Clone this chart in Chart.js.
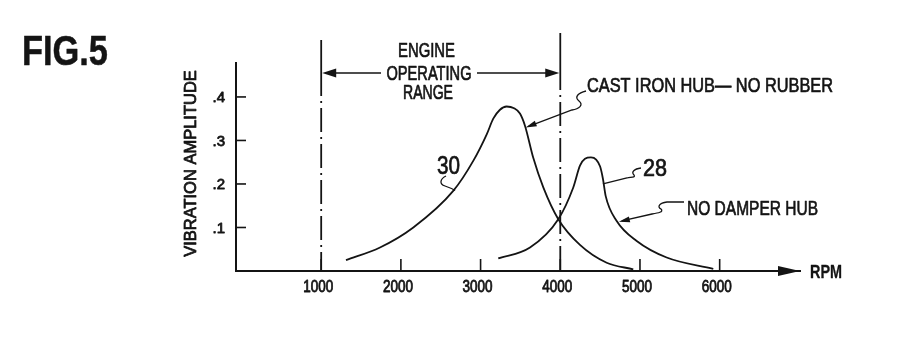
<!DOCTYPE html>
<html>
<head>
<meta charset="utf-8">
<script src="https://cdn.jsdelivr.net/npm/chart.js@4.4.0/dist/chart.umd.min.js"></script>
<style>
  html, body { margin: 0; padding: 0; background: #fff; }
  #wrap { width: 900px; height: 341px; position: relative; }
</style>
</head>
<body>
<div id="wrap"><canvas id="c" width="900" height="341"></canvas></div>
<script>
// Tick values and their labels
const rpmTicks = [1000, 2000, 3000, 4000, 5000, 6000];
const ampTicks = [0.1, 0.2, 0.3, 0.4];
const ampTickLabels = ['.1', '.2', '.3', '.4'];

// Curve 30: cast iron hub, no rubber
const castIronRpm = [1311, 1738, 2156, 2657, 2908, 3077, 3159, 3240, 3327, 3420, 3494, 3557, 3661, 3787, 3975, 4247, 4582, 4916];
const castIronAmp = [0.025, 0.054, 0.100, 0.184, 0.253, 0.314, 0.350, 0.370, 0.378, 0.374, 0.362, 0.334, 0.260, 0.192, 0.119, 0.060, 0.019, 0.004];

// Curve 28: no damper hub
const noDamperRpm = [3222, 3620, 3975, 4163, 4247, 4310, 4385, 4450, 4500, 4535, 4570, 4708, 4959, 5335, 5920];
const noDamperAmp = [0.029, 0.054, 0.119, 0.192, 0.242, 0.258, 0.261, 0.256, 0.240, 0.212, 0.172, 0.115, 0.069, 0.031, 0.005];

// Engine operating range (RPM)
const operatingRange = [1000, 4000];

const INK = '#141414';
const SANS = '"Liberation Sans", "DejaVu Sans", sans-serif';

function toPoints(xs, ys) { return xs.map((x, i) => ({ x: x, y: ys[i] })); }

function arrowHead(ctx, tipX, tipY, fromX, fromY, len, half) {
  const a = Math.atan2(tipY - fromY, tipX - fromX);
  const bx = tipX - len * Math.cos(a), by = tipY - len * Math.sin(a);
  ctx.beginPath();
  ctx.moveTo(tipX, tipY);
  ctx.lineTo(bx + half * Math.sin(a), by - half * Math.cos(a));
  ctx.lineTo(bx - half * Math.sin(a), by + half * Math.cos(a));
  ctx.closePath();
  ctx.fill();
}

function dashDot(ctx, x, yTop, ySolidEnd, yBottom) {
  ctx.save();
  ctx.lineWidth = 1.8;
  ctx.beginPath();
  ctx.moveTo(x, yTop);
  ctx.lineTo(x, ySolidEnd);
  ctx.stroke();
  ctx.setLineDash([2, 5, 24, 5]);
  ctx.beginPath();
  ctx.moveTo(x, ySolidEnd + 5);
  ctx.lineTo(x, yBottom);
  ctx.stroke();
  ctx.restore();
}

// condensed, pen-weight lettering squeezed to a set width
function letter(ctx, text, x, y, size, width, weight, pen) {
  ctx.font = (weight || 'normal') + ' ' + size + 'px ' + SANS;
  ctx.fillText(text, x, y, width);
  ctx.save();
  ctx.lineWidth = pen === undefined ? 0.7 : pen;
  ctx.lineJoin = 'round';
  ctx.strokeText(text, x, y, width);
  ctx.restore();
}

const figurePlugin = {
  id: 'figure',
  beforeDatasetsDraw(chart) {
    const ctx = chart.ctx, xs = chart.scales.x, area = chart.chartArea;
    ctx.save();
    ctx.strokeStyle = INK;
    dashDot(ctx, xs.getPixelForValue(operatingRange[0]), 40, 96, area.bottom);
    dashDot(ctx, xs.getPixelForValue(operatingRange[1]), 33, 90, area.bottom + 4);
    ctx.restore();
  },
  afterDraw(chart) {
    const ctx = chart.ctx, xs = chart.scales.x, ys = chart.scales.y, area = chart.chartArea;
    ctx.save();
    ctx.strokeStyle = INK;
    ctx.fillStyle = INK;
    ctx.lineWidth = 1.6;
    ctx.textBaseline = 'alphabetic';

    // inward tick marks and amplitude labels
    ctx.textAlign = 'right';
    ampTicks.forEach((v, i) => {
      const y = ys.getPixelForValue(v);
      ctx.beginPath(); ctx.moveTo(area.left, y); ctx.lineTo(area.left + 10, y); ctx.stroke();
      letter(ctx, ampTickLabels[i], area.left - 11, y + 5.5, 15, 13, 'normal', 0.8);
      ctx.lineWidth = 1.6;
    });
    ctx.textAlign = 'center';
    rpmTicks.forEach(v => {
      const x = xs.getPixelForValue(v);
      ctx.lineWidth = 1.6;
      ctx.beginPath(); ctx.moveTo(x, area.bottom); ctx.lineTo(x, area.bottom - 12); ctx.stroke();
      letter(ctx, String(v), x - 3, area.bottom + 20.5, 16, 30, 'normal', 0.8);
    });

    // amplitude axis title
    ctx.save();
    ctx.translate(191, 163.5);
    ctx.rotate(-Math.PI / 2);
    ctx.textAlign = 'center';
    ctx.textBaseline = 'middle';
    letter(ctx, 'VIBRATION AMPLITUDE', 0, 0, 16.5, 187, 'normal', 0.8);
    ctx.restore();

    // arrow at the end of the RPM axis
    arrowHead(ctx, area.right, area.bottom, area.right - 22, area.bottom, 22, 5);
    ctx.textAlign = 'left';
    letter(ctx, 'RPM', area.right + 10, area.bottom + 7, 18, 32, 'bold', 0.3);

    // operating range arrow
    const x1 = xs.getPixelForValue(operatingRange[0]);
    const x2 = xs.getPixelForValue(operatingRange[1]);
    const yr = 73;
    ctx.lineWidth = 1.5;
    ctx.beginPath();
    ctx.moveTo(x1 + 10, yr); ctx.lineTo(381, yr);
    ctx.moveTo(477, yr); ctx.lineTo(x2 - 10, yr);
    ctx.stroke();
    arrowHead(ctx, x1 + 1, yr, x1 + 20, yr, 14, 4.5);
    arrowHead(ctx, x2 - 1, yr, x2 - 20, yr, 14, 4.5);

    ctx.textAlign = 'center';
    letter(ctx, 'ENGINE', 426.5, 57, 20, 57);
    letter(ctx, 'OPERATING', 429, 80, 20, 85);
    letter(ctx, 'RANGE', 428, 98.5, 20, 50);

    // curve labels and leaders
    ctx.textAlign = 'left';
    letter(ctx, 'CAST IRON HUB\u2014 NO RUBBER', 587, 91.5, 21, 246);
    letter(ctx, 'NO DAMPER HUB', 687, 215, 21, 131);
    letter(ctx, '30', 437, 173.5, 25, 23);
    letter(ctx, '28', 643, 175.5, 24, 24);

    ctx.lineWidth = 1.3;
    // leader to curve 30 (cast iron)
    const t1x = xs.getPixelForValue(3565), t1y = ys.getPixelForValue(0.330);
    ctx.beginPath();
    ctx.moveTo(586, 91);
    ctx.bezierCurveTo(578, 93, 574, 97, 579, 101);
    ctx.bezierCurveTo(584, 105, 579, 109, 572, 110);
    ctx.lineTo(t1x + 3, t1y - 1);
    ctx.stroke();
    arrowHead(ctx, t1x, t1y, 572, 110, 11, 3);

    // squiggle under "30"
    const t2x = xs.getPixelForValue(2680), t2y = ys.getPixelForValue(0.185);
    ctx.beginPath();
    ctx.moveTo(446, 176);
    ctx.bezierCurveTo(440, 179, 439, 184, 445, 186);
    ctx.quadraticCurveTo(451, 188, t2x, t2y);
    ctx.stroke();

    // squiggle from "28"
    const t3x = xs.getPixelForValue(4535), t3y = ys.getPixelForValue(0.200);
    ctx.beginPath();
    ctx.moveTo(641, 168);
    ctx.bezierCurveTo(634, 169, 631, 172, 634, 175);
    ctx.bezierCurveTo(636, 178, 630, 177, 627, 178);
    ctx.lineTo(t3x, t3y);
    ctx.stroke();

    // leader to no damper hub curve
    const t4x = xs.getPixelForValue(4735), t4y = ys.getPixelForValue(0.113);
    ctx.beginPath();
    ctx.moveTo(684, 202);
    ctx.lineTo(667, 202);
    ctx.bezierCurveTo(659, 203, 657, 207, 661, 209);
    ctx.bezierCurveTo(664, 212, 658, 213, 652, 214);
    ctx.lineTo(t4x + 3, t4y - 1);
    ctx.stroke();
    arrowHead(ctx, t4x, t4y, 652, 214, 11, 3);

    // figure number
    letter(ctx, 'FIG.5', 22, 65, 42, 86, 'bold', 0.5);
    ctx.restore();
  }
};

const lineStyle = {
  showLine: true, borderColor: INK, borderWidth: 1.8, pointRadius: 0,
  cubicInterpolationMode: 'monotone', fill: false
};

new Chart(document.getElementById('c'), {
  type: 'scatter',
  data: {
    datasets: [
      Object.assign({ label: 'CAST IRON HUB\u2014 NO RUBBER', data: toPoints(castIronRpm, castIronAmp) }, lineStyle),
      Object.assign({ label: 'NO DAMPER HUB', data: toPoints(noDamperRpm, noDamperAmp) }, lineStyle)
    ]
  },
  options: {
    responsive: false,
    animation: false,
    devicePixelRatio: 1,
    layout: { padding: { left: 181, right: 100, top: 63, bottom: 0 } },
    plugins: { legend: { display: false }, tooltip: { enabled: false } },
    scales: {
      x: {
        type: 'linear', min: -69, max: 7008,
        afterBuildTicks: s => { s.ticks = rpmTicks.map(v => ({ value: v })); },
        afterFit: s => { s.height = 70; },
        grid: { display: false, drawTicks: false },
        border: { display: true, color: INK, width: 2 },
        ticks: { display: false }
      },
      y: {
        type: 'linear', min: 0, max: 0.478,
        afterBuildTicks: s => { s.ticks = ampTicks.map(v => ({ value: v })); },
        afterFit: s => { s.width = 55; },
        grid: { display: false, drawTicks: false },
        border: { display: true, color: INK, width: 2 },
        ticks: { display: false }
      }
    }
  },
  plugins: [figurePlugin]
});
</script>
</body>
</html>
